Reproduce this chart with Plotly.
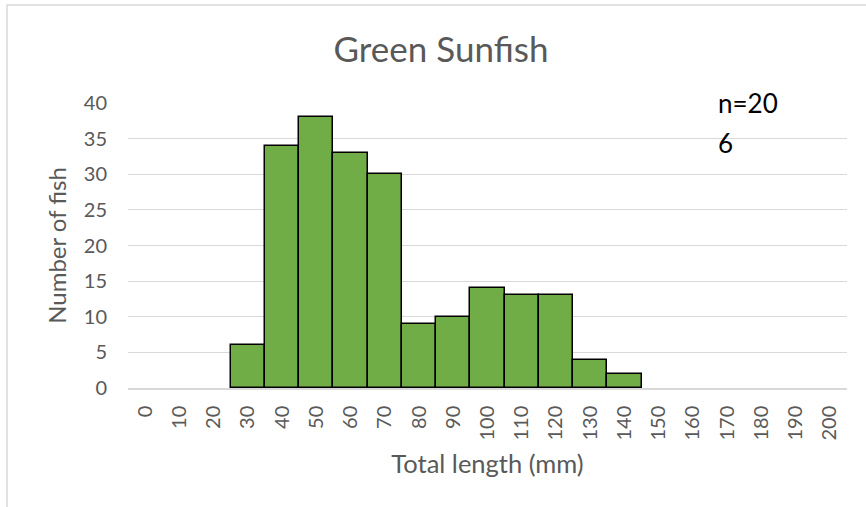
import plotly.graph_objects as go

categories = [str(v) for v in range(0, 201, 10)]
counts = [0, 0, 0, 6, 34, 38, 33, 30, 9, 10, 14, 13, 13, 4, 2, 0, 0, 0, 0, 0, 0]
y_ticks = [0, 5, 10, 15, 20, 25, 30, 35, 40]

FONT = "Lato"
GRAY = "#595959"

fig = go.Figure()
fig.add_trace(go.Bar(
    x=categories, y=counts,
    marker=dict(color="#70AD47",
                line=dict(color="black", width=[1.5 if c > 0 else 0 for c in counts])),
))

W, H = 866, 507
L, R, T, B = 128, 19, 103, 119
pw, ph = W - L - R, H - T - B

fig.update_layout(
    width=W, height=H,
    margin=dict(l=L, r=R, t=T, b=B),
    paper_bgcolor="white", plot_bgcolor="white",
    bargap=0,
    showlegend=False,
    title=dict(text="Green Sunfish", x=441 / W, xanchor="center",
               y=1 - 50 / H, yanchor="middle",
               font=dict(family=FONT, size=35, color=GRAY)),
    xaxis=dict(
        type="category", tickangle=-90,
        tickfont=dict(family=FONT, size=20, color=GRAY),
        showgrid=False, showline=True, linecolor="#D9D9D9", linewidth=1.5,
        ticks="", ticklabelstandoff=8,
        title=dict(text="Total length (mm)", standoff=16,
                   font=dict(family=FONT, size=25.5, color=GRAY)),
    ),
    yaxis=dict(
        range=[0, 40], tickvals=y_ticks,
        tickfont=dict(family=FONT, size=20, color=GRAY),
        showgrid=True, gridcolor="#D9D9D9", gridwidth=1.2,
        zeroline=False, showline=False, ticks="",
        ticklabelstandoff=20,
        title=dict(text="Number of fish", standoff=10,
                   font=dict(family=FONT, size=24, color=GRAY)),
    ),
    annotations=[
        dict(text="n=20", xref="paper", yref="paper",
             x=(716 - L) / pw, y=(388 - 103) / ph, xanchor="left", yanchor="middle",
             align="left", showarrow=False,
             font=dict(family=FONT, size=26, color="black")),
        dict(text="6", xref="paper", yref="paper",
             x=(716 - L) / pw, y=(388 - 143) / ph, xanchor="left", yanchor="middle",
             align="left", showarrow=False,
             font=dict(family=FONT, size=26, color="black")),
    ],
    shapes=[dict(
        type="rect", xref="paper", yref="paper",
        x0=(7 - L) / pw, x1=(W + 20 - L) / pw,
        y0=(388 - (H + 20)) / ph, y1=(388 - 5) / ph,
        line=dict(color="#D9D9D9", width=1.5), fillcolor="rgba(0,0,0,0)",
        layer="below",
    )],
)

fig.write_html("out.html", config={"displayModeBar": False},
               post_script="document.body.style.margin='0px';")
